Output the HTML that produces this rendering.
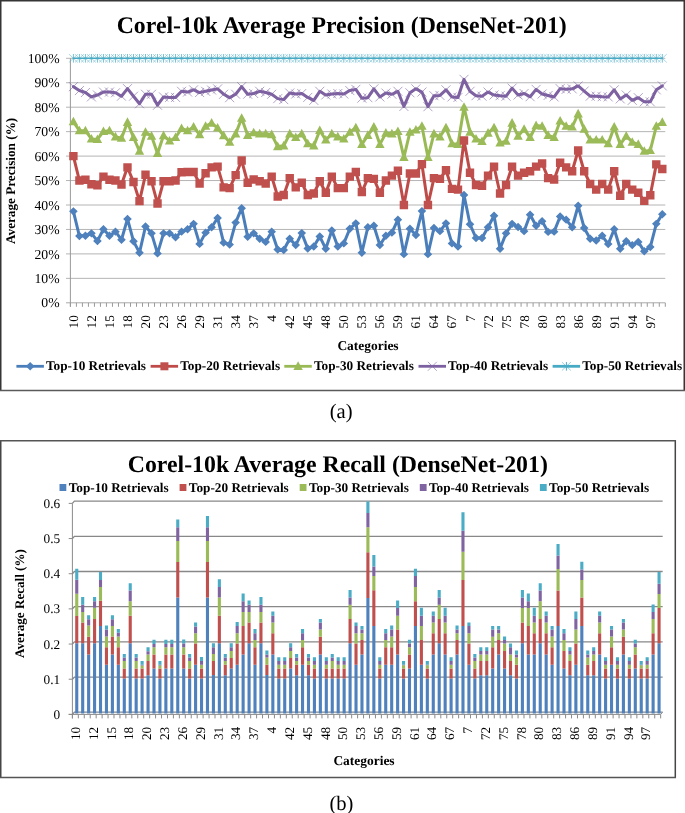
<!DOCTYPE html>
<html><head><meta charset="utf-8"><style>
html,body{margin:0;padding:0;background:#fff;}
svg{display:block;font-family:"Liberation Serif",serif;text-rendering:geometricPrecision;will-change:transform;}
</style></head><body>
<svg width="685" height="813" viewBox="0 0 685 813" fill="#000">
<path d="M0 0.75H685M0.75 0V391M684.25 0V391" stroke="#353535" stroke-width="1.5" fill="none"/>
<path d="M0 390.4H685" stroke="#5a5a5a" stroke-width="1.5" fill="none"/>
<text x="341.7" y="32.9" font-size="23.8" font-weight="bold" text-anchor="middle">Corel-10k Average Precision (DenseNet-201)</text>
<path d="M66 278.35 H665.3 M66 253.9 H665.3 M66 229.45 H665.3 M66 205 H665.3 M66 180.55 H665.3 M66 156.1 H665.3 M66 131.65 H665.3 M66 107.2 H665.3 M66 82.75 H665.3 M66 58.3 H665.3" stroke="#b4b4b4" stroke-width="1" fill="none"/>
<path d="M66 302.8 H665.3" stroke="#a8a8a8" stroke-width="1" fill="none"/>
<path d="M70.4 58.3 V306.8" stroke="#9a9a9a" stroke-width="1" fill="none"/>
<path d="M70.4 302.8 v4 M76.41 302.8 v4 M82.42 302.8 v4 M88.43 302.8 v4 M94.44 302.8 v4 M100.45 302.8 v4 M106.45 302.8 v4 M112.46 302.8 v4 M118.47 302.8 v4 M124.48 302.8 v4 M130.49 302.8 v4 M136.5 302.8 v4 M142.51 302.8 v4 M148.52 302.8 v4 M154.53 302.8 v4 M160.54 302.8 v4 M166.55 302.8 v4 M172.55 302.8 v4 M178.56 302.8 v4 M184.57 302.8 v4 M190.58 302.8 v4 M196.59 302.8 v4 M202.6 302.8 v4 M208.61 302.8 v4 M214.62 302.8 v4 M220.63 302.8 v4 M226.64 302.8 v4 M232.65 302.8 v4 M238.65 302.8 v4 M244.66 302.8 v4 M250.67 302.8 v4 M256.68 302.8 v4 M262.69 302.8 v4 M268.7 302.8 v4 M274.71 302.8 v4 M280.72 302.8 v4 M286.73 302.8 v4 M292.74 302.8 v4 M298.75 302.8 v4 M304.75 302.8 v4 M310.76 302.8 v4 M316.77 302.8 v4 M322.78 302.8 v4 M328.79 302.8 v4 M334.8 302.8 v4 M340.81 302.8 v4 M346.82 302.8 v4 M352.83 302.8 v4 M358.84 302.8 v4 M364.85 302.8 v4 M370.85 302.8 v4 M376.86 302.8 v4 M382.87 302.8 v4 M388.88 302.8 v4 M394.89 302.8 v4 M400.9 302.8 v4 M406.91 302.8 v4 M412.92 302.8 v4 M418.93 302.8 v4 M424.94 302.8 v4 M430.95 302.8 v4 M436.95 302.8 v4 M442.96 302.8 v4 M448.97 302.8 v4 M454.98 302.8 v4 M460.99 302.8 v4 M467 302.8 v4 M473.01 302.8 v4 M479.02 302.8 v4 M485.03 302.8 v4 M491.04 302.8 v4 M497.05 302.8 v4 M503.05 302.8 v4 M509.06 302.8 v4 M515.07 302.8 v4 M521.08 302.8 v4 M527.09 302.8 v4 M533.1 302.8 v4 M539.11 302.8 v4 M545.12 302.8 v4 M551.13 302.8 v4 M557.14 302.8 v4 M563.15 302.8 v4 M569.15 302.8 v4 M575.16 302.8 v4 M581.17 302.8 v4 M587.18 302.8 v4 M593.19 302.8 v4 M599.2 302.8 v4 M605.21 302.8 v4 M611.22 302.8 v4 M617.23 302.8 v4 M623.24 302.8 v4 M629.25 302.8 v4 M635.25 302.8 v4 M641.26 302.8 v4 M647.27 302.8 v4 M653.28 302.8 v4 M659.29 302.8 v4 M665.3 302.8 v4" stroke="#9a9a9a" stroke-width="1" fill="none"/>
<text x="59.6" y="307.4" font-size="13.7" text-anchor="end">0%</text>
<text x="59.6" y="282.95" font-size="13.7" text-anchor="end">10%</text>
<text x="59.6" y="258.5" font-size="13.7" text-anchor="end">20%</text>
<text x="59.6" y="234.05" font-size="13.7" text-anchor="end">30%</text>
<text x="59.6" y="209.6" font-size="13.7" text-anchor="end">40%</text>
<text x="59.6" y="185.15" font-size="13.7" text-anchor="end">50%</text>
<text x="59.6" y="160.7" font-size="13.7" text-anchor="end">60%</text>
<text x="59.6" y="136.25" font-size="13.7" text-anchor="end">70%</text>
<text x="59.6" y="111.8" font-size="13.7" text-anchor="end">80%</text>
<text x="59.6" y="87.35" font-size="13.7" text-anchor="end">90%</text>
<text x="59.6" y="62.9" font-size="13.7" text-anchor="end">100%</text>
<text transform="translate(77.9 315.2) rotate(-90)" font-size="13.2" text-anchor="end">10</text>
<text transform="translate(95.93 315.2) rotate(-90)" font-size="13.2" text-anchor="end">12</text>
<text transform="translate(113.96 315.2) rotate(-90)" font-size="13.2" text-anchor="end">15</text>
<text transform="translate(131.99 315.2) rotate(-90)" font-size="13.2" text-anchor="end">18</text>
<text transform="translate(150.01 315.2) rotate(-90)" font-size="13.2" text-anchor="end">20</text>
<text transform="translate(168.04 315.2) rotate(-90)" font-size="13.2" text-anchor="end">23</text>
<text transform="translate(186.07 315.2) rotate(-90)" font-size="13.2" text-anchor="end">26</text>
<text transform="translate(204.1 315.2) rotate(-90)" font-size="13.2" text-anchor="end">29</text>
<text transform="translate(222.12 315.2) rotate(-90)" font-size="13.2" text-anchor="end">31</text>
<text transform="translate(240.15 315.2) rotate(-90)" font-size="13.2" text-anchor="end">34</text>
<text transform="translate(258.18 315.2) rotate(-90)" font-size="13.2" text-anchor="end">37</text>
<text transform="translate(276.2 315.2) rotate(-90)" font-size="13.2" text-anchor="end">4</text>
<text transform="translate(294.23 315.2) rotate(-90)" font-size="13.2" text-anchor="end">42</text>
<text transform="translate(312.26 315.2) rotate(-90)" font-size="13.2" text-anchor="end">45</text>
<text transform="translate(330.29 315.2) rotate(-90)" font-size="13.2" text-anchor="end">48</text>
<text transform="translate(348.31 315.2) rotate(-90)" font-size="13.2" text-anchor="end">50</text>
<text transform="translate(366.34 315.2) rotate(-90)" font-size="13.2" text-anchor="end">53</text>
<text transform="translate(384.37 315.2) rotate(-90)" font-size="13.2" text-anchor="end">56</text>
<text transform="translate(402.4 315.2) rotate(-90)" font-size="13.2" text-anchor="end">59</text>
<text transform="translate(420.42 315.2) rotate(-90)" font-size="13.2" text-anchor="end">61</text>
<text transform="translate(438.45 315.2) rotate(-90)" font-size="13.2" text-anchor="end">64</text>
<text transform="translate(456.48 315.2) rotate(-90)" font-size="13.2" text-anchor="end">67</text>
<text transform="translate(474.5 315.2) rotate(-90)" font-size="13.2" text-anchor="end">7</text>
<text transform="translate(492.53 315.2) rotate(-90)" font-size="13.2" text-anchor="end">72</text>
<text transform="translate(510.56 315.2) rotate(-90)" font-size="13.2" text-anchor="end">75</text>
<text transform="translate(528.59 315.2) rotate(-90)" font-size="13.2" text-anchor="end">78</text>
<text transform="translate(546.61 315.2) rotate(-90)" font-size="13.2" text-anchor="end">80</text>
<text transform="translate(564.64 315.2) rotate(-90)" font-size="13.2" text-anchor="end">83</text>
<text transform="translate(582.67 315.2) rotate(-90)" font-size="13.2" text-anchor="end">86</text>
<text transform="translate(600.7 315.2) rotate(-90)" font-size="13.2" text-anchor="end">89</text>
<text transform="translate(618.72 315.2) rotate(-90)" font-size="13.2" text-anchor="end">91</text>
<text transform="translate(636.75 315.2) rotate(-90)" font-size="13.2" text-anchor="end">94</text>
<text transform="translate(654.78 315.2) rotate(-90)" font-size="13.2" text-anchor="end">97</text>
<text x="368" y="349.6" font-size="13.45" font-weight="bold" text-anchor="middle">Categories</text>
<text transform="translate(15 180.9) rotate(-90)" font-size="13.2" font-weight="bold" text-anchor="middle">Average Precision (%)</text>
<polyline points="73.4,58.3 79.41,58.3 85.42,58.3 91.43,58.3 97.44,58.3 103.45,58.3 109.46,58.3 115.47,58.3 121.48,58.3 127.49,58.3 133.5,58.3 139.5,58.3 145.51,58.3 151.52,58.3 157.53,58.3 163.54,58.3 169.55,58.3 175.56,58.3 181.57,58.3 187.58,58.3 193.59,58.3 199.6,58.3 205.6,58.3 211.61,58.3 217.62,58.3 223.63,58.3 229.64,58.3 235.65,58.3 241.66,58.3 247.67,58.3 253.68,58.3 259.69,58.3 265.7,58.3 271.7,58.3 277.71,58.3 283.72,58.3 289.73,58.3 295.74,58.3 301.75,58.3 307.76,58.3 313.77,58.3 319.78,58.3 325.79,58.3 331.8,58.3 337.8,58.3 343.81,58.3 349.82,58.3 355.83,58.3 361.84,58.3 367.85,58.3 373.86,58.3 379.87,58.3 385.88,58.3 391.89,58.3 397.9,58.3 403.9,58.3 409.91,58.3 415.92,58.3 421.93,58.3 427.94,58.3 433.95,58.3 439.96,58.3 445.97,58.3 451.98,58.3 457.99,58.3 464,58.3 470,58.3 476.01,58.3 482.02,58.3 488.03,58.3 494.04,58.3 500.05,58.3 506.06,58.3 512.07,58.3 518.08,58.3 524.09,58.3 530.1,58.3 536.1,58.3 542.11,58.3 548.12,58.3 554.13,58.3 560.14,58.3 566.15,58.3 572.16,58.3 578.17,58.3 584.18,58.3 590.19,58.3 596.2,58.3 602.2,58.3 608.21,58.3 614.22,58.3 620.23,58.3 626.24,58.3 632.25,58.3 638.26,58.3 644.27,58.3 650.28,58.3 656.29,58.3 662.3,58.3" fill="none" stroke="#46AAC5" stroke-width="1.6" stroke-linejoin="round" stroke-linecap="round"/>
<path d="M68.9 54.1l9 8.4M68.9 62.5l9 -8.4 M74.91 54.1l9 8.4M74.91 62.5l9 -8.4 M80.92 54.1l9 8.4M80.92 62.5l9 -8.4 M86.93 54.1l9 8.4M86.93 62.5l9 -8.4 M92.94 54.1l9 8.4M92.94 62.5l9 -8.4 M98.95 54.1l9 8.4M98.95 62.5l9 -8.4 M104.96 54.1l9 8.4M104.96 62.5l9 -8.4 M110.97 54.1l9 8.4M110.97 62.5l9 -8.4 M116.98 54.1l9 8.4M116.98 62.5l9 -8.4 M122.99 54.1l9 8.4M122.99 62.5l9 -8.4 M129 54.1l9 8.4M129 62.5l9 -8.4 M135 54.1l9 8.4M135 62.5l9 -8.4 M141.01 54.1l9 8.4M141.01 62.5l9 -8.4 M147.02 54.1l9 8.4M147.02 62.5l9 -8.4 M153.03 54.1l9 8.4M153.03 62.5l9 -8.4 M159.04 54.1l9 8.4M159.04 62.5l9 -8.4 M165.05 54.1l9 8.4M165.05 62.5l9 -8.4 M171.06 54.1l9 8.4M171.06 62.5l9 -8.4 M177.07 54.1l9 8.4M177.07 62.5l9 -8.4 M183.08 54.1l9 8.4M183.08 62.5l9 -8.4 M189.09 54.1l9 8.4M189.09 62.5l9 -8.4 M195.1 54.1l9 8.4M195.1 62.5l9 -8.4 M201.1 54.1l9 8.4M201.1 62.5l9 -8.4 M207.11 54.1l9 8.4M207.11 62.5l9 -8.4 M213.12 54.1l9 8.4M213.12 62.5l9 -8.4 M219.13 54.1l9 8.4M219.13 62.5l9 -8.4 M225.14 54.1l9 8.4M225.14 62.5l9 -8.4 M231.15 54.1l9 8.4M231.15 62.5l9 -8.4 M237.16 54.1l9 8.4M237.16 62.5l9 -8.4 M243.17 54.1l9 8.4M243.17 62.5l9 -8.4 M249.18 54.1l9 8.4M249.18 62.5l9 -8.4 M255.19 54.1l9 8.4M255.19 62.5l9 -8.4 M261.2 54.1l9 8.4M261.2 62.5l9 -8.4 M267.2 54.1l9 8.4M267.2 62.5l9 -8.4 M273.21 54.1l9 8.4M273.21 62.5l9 -8.4 M279.22 54.1l9 8.4M279.22 62.5l9 -8.4 M285.23 54.1l9 8.4M285.23 62.5l9 -8.4 M291.24 54.1l9 8.4M291.24 62.5l9 -8.4 M297.25 54.1l9 8.4M297.25 62.5l9 -8.4 M303.26 54.1l9 8.4M303.26 62.5l9 -8.4 M309.27 54.1l9 8.4M309.27 62.5l9 -8.4 M315.28 54.1l9 8.4M315.28 62.5l9 -8.4 M321.29 54.1l9 8.4M321.29 62.5l9 -8.4 M327.3 54.1l9 8.4M327.3 62.5l9 -8.4 M333.3 54.1l9 8.4M333.3 62.5l9 -8.4 M339.31 54.1l9 8.4M339.31 62.5l9 -8.4 M345.32 54.1l9 8.4M345.32 62.5l9 -8.4 M351.33 54.1l9 8.4M351.33 62.5l9 -8.4 M357.34 54.1l9 8.4M357.34 62.5l9 -8.4 M363.35 54.1l9 8.4M363.35 62.5l9 -8.4 M369.36 54.1l9 8.4M369.36 62.5l9 -8.4 M375.37 54.1l9 8.4M375.37 62.5l9 -8.4 M381.38 54.1l9 8.4M381.38 62.5l9 -8.4 M387.39 54.1l9 8.4M387.39 62.5l9 -8.4 M393.4 54.1l9 8.4M393.4 62.5l9 -8.4 M399.4 54.1l9 8.4M399.4 62.5l9 -8.4 M405.41 54.1l9 8.4M405.41 62.5l9 -8.4 M411.42 54.1l9 8.4M411.42 62.5l9 -8.4 M417.43 54.1l9 8.4M417.43 62.5l9 -8.4 M423.44 54.1l9 8.4M423.44 62.5l9 -8.4 M429.45 54.1l9 8.4M429.45 62.5l9 -8.4 M435.46 54.1l9 8.4M435.46 62.5l9 -8.4 M441.47 54.1l9 8.4M441.47 62.5l9 -8.4 M447.48 54.1l9 8.4M447.48 62.5l9 -8.4 M453.49 54.1l9 8.4M453.49 62.5l9 -8.4 M459.5 54.1l9 8.4M459.5 62.5l9 -8.4 M465.5 54.1l9 8.4M465.5 62.5l9 -8.4 M471.51 54.1l9 8.4M471.51 62.5l9 -8.4 M477.52 54.1l9 8.4M477.52 62.5l9 -8.4 M483.53 54.1l9 8.4M483.53 62.5l9 -8.4 M489.54 54.1l9 8.4M489.54 62.5l9 -8.4 M495.55 54.1l9 8.4M495.55 62.5l9 -8.4 M501.56 54.1l9 8.4M501.56 62.5l9 -8.4 M507.57 54.1l9 8.4M507.57 62.5l9 -8.4 M513.58 54.1l9 8.4M513.58 62.5l9 -8.4 M519.59 54.1l9 8.4M519.59 62.5l9 -8.4 M525.6 54.1l9 8.4M525.6 62.5l9 -8.4 M531.6 54.1l9 8.4M531.6 62.5l9 -8.4 M537.61 54.1l9 8.4M537.61 62.5l9 -8.4 M543.62 54.1l9 8.4M543.62 62.5l9 -8.4 M549.63 54.1l9 8.4M549.63 62.5l9 -8.4 M555.64 54.1l9 8.4M555.64 62.5l9 -8.4 M561.65 54.1l9 8.4M561.65 62.5l9 -8.4 M567.66 54.1l9 8.4M567.66 62.5l9 -8.4 M573.67 54.1l9 8.4M573.67 62.5l9 -8.4 M579.68 54.1l9 8.4M579.68 62.5l9 -8.4 M585.69 54.1l9 8.4M585.69 62.5l9 -8.4 M591.7 54.1l9 8.4M591.7 62.5l9 -8.4 M597.7 54.1l9 8.4M597.7 62.5l9 -8.4 M603.71 54.1l9 8.4M603.71 62.5l9 -8.4 M609.72 54.1l9 8.4M609.72 62.5l9 -8.4 M615.73 54.1l9 8.4M615.73 62.5l9 -8.4 M621.74 54.1l9 8.4M621.74 62.5l9 -8.4 M627.75 54.1l9 8.4M627.75 62.5l9 -8.4 M633.76 54.1l9 8.4M633.76 62.5l9 -8.4 M639.77 54.1l9 8.4M639.77 62.5l9 -8.4 M645.78 54.1l9 8.4M645.78 62.5l9 -8.4 M651.79 54.1l9 8.4M651.79 62.5l9 -8.4 M657.8 54.1l9 8.4M657.8 62.5l9 -8.4" stroke="#4BACC6" stroke-width="0.7" fill="none" opacity="0.65"/>
<path d="M73.4 54v8.6 M79.41 54v8.6 M85.42 54v8.6 M91.43 54v8.6 M97.44 54v8.6 M103.45 54v8.6 M109.46 54v8.6 M115.47 54v8.6 M121.48 54v8.6 M127.49 54v8.6 M133.5 54v8.6 M139.5 54v8.6 M145.51 54v8.6 M151.52 54v8.6 M157.53 54v8.6 M163.54 54v8.6 M169.55 54v8.6 M175.56 54v8.6 M181.57 54v8.6 M187.58 54v8.6 M193.59 54v8.6 M199.6 54v8.6 M205.6 54v8.6 M211.61 54v8.6 M217.62 54v8.6 M223.63 54v8.6 M229.64 54v8.6 M235.65 54v8.6 M241.66 54v8.6 M247.67 54v8.6 M253.68 54v8.6 M259.69 54v8.6 M265.7 54v8.6 M271.7 54v8.6 M277.71 54v8.6 M283.72 54v8.6 M289.73 54v8.6 M295.74 54v8.6 M301.75 54v8.6 M307.76 54v8.6 M313.77 54v8.6 M319.78 54v8.6 M325.79 54v8.6 M331.8 54v8.6 M337.8 54v8.6 M343.81 54v8.6 M349.82 54v8.6 M355.83 54v8.6 M361.84 54v8.6 M367.85 54v8.6 M373.86 54v8.6 M379.87 54v8.6 M385.88 54v8.6 M391.89 54v8.6 M397.9 54v8.6 M403.9 54v8.6 M409.91 54v8.6 M415.92 54v8.6 M421.93 54v8.6 M427.94 54v8.6 M433.95 54v8.6 M439.96 54v8.6 M445.97 54v8.6 M451.98 54v8.6 M457.99 54v8.6 M464 54v8.6 M470 54v8.6 M476.01 54v8.6 M482.02 54v8.6 M488.03 54v8.6 M494.04 54v8.6 M500.05 54v8.6 M506.06 54v8.6 M512.07 54v8.6 M518.08 54v8.6 M524.09 54v8.6 M530.1 54v8.6 M536.1 54v8.6 M542.11 54v8.6 M548.12 54v8.6 M554.13 54v8.6 M560.14 54v8.6 M566.15 54v8.6 M572.16 54v8.6 M578.17 54v8.6 M584.18 54v8.6 M590.19 54v8.6 M596.2 54v8.6 M602.2 54v8.6 M608.21 54v8.6 M614.22 54v8.6 M620.23 54v8.6 M626.24 54v8.6 M632.25 54v8.6 M638.26 54v8.6 M644.27 54v8.6 M650.28 54v8.6 M656.29 54v8.6 M662.3 54v8.6" stroke="#4BACC6" stroke-width="0.9" fill="none" opacity="0.85"/>
<polyline points="73.4,86.66 79.41,90.57 85.42,92.53 91.43,96.93 97.44,94.98 103.45,92.04 109.46,92.04 115.47,92.77 121.48,96.2 127.49,88.62 133.5,96.2 139.5,103.78 145.51,94.24 151.52,94.24 157.53,105.24 163.54,96.93 169.55,97.42 175.56,97.42 181.57,91.31 187.58,92.04 193.59,89.84 199.6,92.53 205.6,91.31 211.61,90.09 217.62,88.86 223.63,94.24 229.64,97.66 235.65,94.24 241.66,86.66 247.67,94.24 253.68,93.51 259.69,91.31 265.7,92.53 271.7,94.24 277.71,98.64 283.72,99.62 289.73,93.02 295.74,94 301.75,93.51 307.76,97.42 313.77,100.35 319.78,91.31 325.79,94.98 331.8,94 337.8,93.51 343.81,94 349.82,90.57 355.83,89.35 361.84,98.15 367.85,97.66 373.86,88.86 379.87,96.93 385.88,93.02 391.89,94.24 397.9,91.31 403.9,106.47 409.91,92.77 415.92,88.86 421.93,92.04 427.94,106.71 433.95,95.71 439.96,95.46 445.97,89.84 451.98,96.93 457.99,97.42 464,79.33 470,91.31 476.01,95.71 482.02,96.2 488.03,92.04 494.04,94.98 500.05,95.71 506.06,96.2 512.07,88.13 518.08,94.98 524.09,93.51 530.1,96.69 536.1,89.35 542.11,94 548.12,95.46 554.13,96.93 560.14,88.62 566.15,89.35 572.16,88.86 578.17,85.93 584.18,91.06 590.19,96.2 596.2,96.2 602.2,96.69 608.21,96.93 614.22,89.84 620.23,98.89 626.24,94.98 632.25,100.35 638.26,97.66 644.27,101.82 650.28,101.82 656.29,89.84 662.3,85.93" fill="none" stroke="#7D60A0" stroke-width="3" stroke-linejoin="round" stroke-linecap="round"/>
<path d="M68.9 82.16l9 9M68.9 91.16l9 -9 M74.91 86.07l9 9M74.91 95.07l9 -9 M80.92 88.03l9 9M80.92 97.03l9 -9 M86.93 92.43l9 9M86.93 101.43l9 -9 M92.94 90.48l9 9M92.94 99.48l9 -9 M98.95 87.54l9 9M98.95 96.54l9 -9 M104.96 87.54l9 9M104.96 96.54l9 -9 M110.97 88.27l9 9M110.97 97.27l9 -9 M116.98 91.7l9 9M116.98 100.7l9 -9 M122.99 84.12l9 9M122.99 93.12l9 -9 M129 91.7l9 9M129 100.7l9 -9 M135 99.28l9 9M135 108.28l9 -9 M141.01 89.74l9 9M141.01 98.74l9 -9 M147.02 89.74l9 9M147.02 98.74l9 -9 M153.03 100.74l9 9M153.03 109.74l9 -9 M159.04 92.43l9 9M159.04 101.43l9 -9 M165.05 92.92l9 9M165.05 101.92l9 -9 M171.06 92.92l9 9M171.06 101.92l9 -9 M177.07 86.81l9 9M177.07 95.81l9 -9 M183.08 87.54l9 9M183.08 96.54l9 -9 M189.09 85.34l9 9M189.09 94.34l9 -9 M195.1 88.03l9 9M195.1 97.03l9 -9 M201.1 86.81l9 9M201.1 95.81l9 -9 M207.11 85.59l9 9M207.11 94.59l9 -9 M213.12 84.36l9 9M213.12 93.36l9 -9 M219.13 89.74l9 9M219.13 98.74l9 -9 M225.14 93.16l9 9M225.14 102.16l9 -9 M231.15 89.74l9 9M231.15 98.74l9 -9 M237.16 82.16l9 9M237.16 91.16l9 -9 M243.17 89.74l9 9M243.17 98.74l9 -9 M249.18 89.01l9 9M249.18 98.01l9 -9 M255.19 86.81l9 9M255.19 95.81l9 -9 M261.2 88.03l9 9M261.2 97.03l9 -9 M267.2 89.74l9 9M267.2 98.74l9 -9 M273.21 94.14l9 9M273.21 103.14l9 -9 M279.22 95.12l9 9M279.22 104.12l9 -9 M285.23 88.52l9 9M285.23 97.52l9 -9 M291.24 89.5l9 9M291.24 98.5l9 -9 M297.25 89.01l9 9M297.25 98.01l9 -9 M303.26 92.92l9 9M303.26 101.92l9 -9 M309.27 95.85l9 9M309.27 104.85l9 -9 M315.28 86.81l9 9M315.28 95.81l9 -9 M321.29 90.48l9 9M321.29 99.48l9 -9 M327.3 89.5l9 9M327.3 98.5l9 -9 M333.3 89.01l9 9M333.3 98.01l9 -9 M339.31 89.5l9 9M339.31 98.5l9 -9 M345.32 86.07l9 9M345.32 95.07l9 -9 M351.33 84.85l9 9M351.33 93.85l9 -9 M357.34 93.65l9 9M357.34 102.65l9 -9 M363.35 93.16l9 9M363.35 102.16l9 -9 M369.36 84.36l9 9M369.36 93.36l9 -9 M375.37 92.43l9 9M375.37 101.43l9 -9 M381.38 88.52l9 9M381.38 97.52l9 -9 M387.39 89.74l9 9M387.39 98.74l9 -9 M393.4 86.81l9 9M393.4 95.81l9 -9 M399.4 101.97l9 9M399.4 110.97l9 -9 M405.41 88.27l9 9M405.41 97.27l9 -9 M411.42 84.36l9 9M411.42 93.36l9 -9 M417.43 87.54l9 9M417.43 96.54l9 -9 M423.44 102.21l9 9M423.44 111.21l9 -9 M429.45 91.21l9 9M429.45 100.21l9 -9 M435.46 90.96l9 9M435.46 99.96l9 -9 M441.47 85.34l9 9M441.47 94.34l9 -9 M447.48 92.43l9 9M447.48 101.43l9 -9 M453.49 92.92l9 9M453.49 101.92l9 -9 M459.5 74.83l9 9M459.5 83.83l9 -9 M465.5 86.81l9 9M465.5 95.81l9 -9 M471.51 91.21l9 9M471.51 100.21l9 -9 M477.52 91.7l9 9M477.52 100.7l9 -9 M483.53 87.54l9 9M483.53 96.54l9 -9 M489.54 90.48l9 9M489.54 99.48l9 -9 M495.55 91.21l9 9M495.55 100.21l9 -9 M501.56 91.7l9 9M501.56 100.7l9 -9 M507.57 83.63l9 9M507.57 92.63l9 -9 M513.58 90.48l9 9M513.58 99.48l9 -9 M519.59 89.01l9 9M519.59 98.01l9 -9 M525.6 92.19l9 9M525.6 101.19l9 -9 M531.6 84.85l9 9M531.6 93.85l9 -9 M537.61 89.5l9 9M537.61 98.5l9 -9 M543.62 90.96l9 9M543.62 99.96l9 -9 M549.63 92.43l9 9M549.63 101.43l9 -9 M555.64 84.12l9 9M555.64 93.12l9 -9 M561.65 84.85l9 9M561.65 93.85l9 -9 M567.66 84.36l9 9M567.66 93.36l9 -9 M573.67 81.43l9 9M573.67 90.43l9 -9 M579.68 86.56l9 9M579.68 95.56l9 -9 M585.69 91.7l9 9M585.69 100.7l9 -9 M591.7 91.7l9 9M591.7 100.7l9 -9 M597.7 92.19l9 9M597.7 101.19l9 -9 M603.71 92.43l9 9M603.71 101.43l9 -9 M609.72 85.34l9 9M609.72 94.34l9 -9 M615.73 94.39l9 9M615.73 103.39l9 -9 M621.74 90.48l9 9M621.74 99.48l9 -9 M627.75 95.85l9 9M627.75 104.85l9 -9 M633.76 93.16l9 9M633.76 102.16l9 -9 M639.77 97.32l9 9M639.77 106.32l9 -9 M645.78 97.32l9 9M645.78 106.32l9 -9 M651.79 85.34l9 9M651.79 94.34l9 -9 M657.8 81.43l9 9M657.8 90.43l9 -9" stroke="#8064A2" stroke-width="0.8" fill="none" opacity="0.75"/>
<polyline points="73.4,121.63 79.41,130.67 85.42,130.67 91.43,138.99 97.44,139.47 103.45,131.41 109.46,130.67 115.47,136.78 121.48,138.25 127.49,122.36 133.5,137.52 139.5,151.21 145.51,132.14 151.52,136.05 157.53,153.41 163.54,135.56 169.55,140.94 175.56,137.52 181.57,128.47 187.58,130.67 193.59,127 199.6,134.58 205.6,126.27 211.61,123.09 217.62,127.98 223.63,135.56 229.64,142.16 235.65,133.85 241.66,118.2 247.67,135.32 253.68,132.63 259.69,133.85 265.7,133.85 271.7,134.58 277.71,146.56 283.72,145.83 289.73,133.85 295.74,137.52 301.75,133.85 307.76,143.63 313.77,145.83 319.78,130.43 325.79,139.96 331.8,133.85 337.8,136.78 343.81,138.99 349.82,132.14 355.83,127.74 361.84,144.36 367.85,135.32 373.86,127 379.87,144.36 385.88,133.12 391.89,133.85 397.9,131.41 403.9,157.32 409.91,132.14 415.92,129.94 421.93,126.27 427.94,157.32 433.95,133.85 439.96,136.78 445.97,127.74 451.98,143.63 457.99,144.36 464,107.2 470,132.14 476.01,138.99 482.02,141.43 488.03,133.12 494.04,127.74 500.05,142.9 506.06,141.19 512.07,123.09 518.08,136.05 524.09,129.21 530.1,137.52 536.1,125.54 542.11,126.27 548.12,135.32 554.13,137.52 560.14,120.89 566.15,126.27 572.16,127 578.17,113.8 584.18,129.21 590.19,139.96 596.2,139.96 602.2,139.96 608.21,143.63 614.22,127 620.23,144.36 626.24,136.05 632.25,142.16 638.26,144.36 644.27,151.21 650.28,150.48 656.29,126.27 662.3,122.36" fill="none" stroke="#98B954" stroke-width="3" stroke-linejoin="round" stroke-linecap="round"/>
<path d="M73.4 116.63L78.1 125.23L68.7 125.23z M79.41 125.67L84.11 134.27L74.71 134.27z M85.42 125.67L90.12 134.27L80.72 134.27z M91.43 133.99L96.13 142.59L86.73 142.59z M97.44 134.47L102.14 143.07L92.74 143.07z M103.45 126.41L108.15 135.01L98.75 135.01z M109.46 125.67L114.16 134.27L104.76 134.27z M115.47 131.78L120.17 140.38L110.77 140.38z M121.48 133.25L126.18 141.85L116.78 141.85z M127.49 117.36L132.19 125.96L122.79 125.96z M133.5 132.52L138.2 141.12L128.8 141.12z M139.5 146.21L144.2 154.81L134.8 154.81z M145.51 127.14L150.21 135.74L140.81 135.74z M151.52 131.05L156.22 139.65L146.82 139.65z M157.53 148.41L162.23 157.01L152.83 157.01z M163.54 130.56L168.24 139.16L158.84 139.16z M169.55 135.94L174.25 144.54L164.85 144.54z M175.56 132.52L180.26 141.12L170.86 141.12z M181.57 123.47L186.27 132.07L176.87 132.07z M187.58 125.67L192.28 134.27L182.88 134.27z M193.59 122L198.29 130.6L188.89 130.6z M199.6 129.58L204.3 138.18L194.9 138.18z M205.6 121.27L210.3 129.87L200.9 129.87z M211.61 118.09L216.31 126.69L206.91 126.69z M217.62 122.98L222.32 131.58L212.92 131.58z M223.63 130.56L228.33 139.16L218.93 139.16z M229.64 137.16L234.34 145.76L224.94 145.76z M235.65 128.85L240.35 137.45L230.95 137.45z M241.66 113.2L246.36 121.8L236.96 121.8z M247.67 130.32L252.37 138.92L242.97 138.92z M253.68 127.63L258.38 136.23L248.98 136.23z M259.69 128.85L264.39 137.45L254.99 137.45z M265.7 128.85L270.4 137.45L261 137.45z M271.7 129.58L276.4 138.18L267 138.18z M277.71 141.56L282.41 150.16L273.01 150.16z M283.72 140.83L288.42 149.43L279.02 149.43z M289.73 128.85L294.43 137.45L285.03 137.45z M295.74 132.52L300.44 141.12L291.04 141.12z M301.75 128.85L306.45 137.45L297.05 137.45z M307.76 138.63L312.46 147.23L303.06 147.23z M313.77 140.83L318.47 149.43L309.07 149.43z M319.78 125.43L324.48 134.03L315.08 134.03z M325.79 134.96L330.49 143.56L321.09 143.56z M331.8 128.85L336.5 137.45L327.1 137.45z M337.8 131.78L342.5 140.38L333.1 140.38z M343.81 133.99L348.51 142.59L339.11 142.59z M349.82 127.14L354.52 135.74L345.12 135.74z M355.83 122.74L360.53 131.34L351.13 131.34z M361.84 139.36L366.54 147.96L357.14 147.96z M367.85 130.32L372.55 138.92L363.15 138.92z M373.86 122L378.56 130.6L369.16 130.6z M379.87 139.36L384.57 147.96L375.17 147.96z M385.88 128.12L390.58 136.72L381.18 136.72z M391.89 128.85L396.59 137.45L387.19 137.45z M397.9 126.41L402.6 135.01L393.2 135.01z M403.9 152.32L408.6 160.92L399.2 160.92z M409.91 127.14L414.61 135.74L405.21 135.74z M415.92 124.94L420.62 133.54L411.22 133.54z M421.93 121.27L426.63 129.87L417.23 129.87z M427.94 152.32L432.64 160.92L423.24 160.92z M433.95 128.85L438.65 137.45L429.25 137.45z M439.96 131.78L444.66 140.38L435.26 140.38z M445.97 122.74L450.67 131.34L441.27 131.34z M451.98 138.63L456.68 147.23L447.28 147.23z M457.99 139.36L462.69 147.96L453.29 147.96z M464 102.2L468.7 110.8L459.3 110.8z M470 127.14L474.7 135.74L465.3 135.74z M476.01 133.99L480.71 142.59L471.31 142.59z M482.02 136.43L486.72 145.03L477.32 145.03z M488.03 128.12L492.73 136.72L483.33 136.72z M494.04 122.74L498.74 131.34L489.34 131.34z M500.05 137.9L504.75 146.5L495.35 146.5z M506.06 136.19L510.76 144.79L501.36 144.79z M512.07 118.09L516.77 126.69L507.37 126.69z M518.08 131.05L522.78 139.65L513.38 139.65z M524.09 124.21L528.79 132.81L519.39 132.81z M530.1 132.52L534.8 141.12L525.4 141.12z M536.1 120.54L540.8 129.14L531.4 129.14z M542.11 121.27L546.81 129.87L537.41 129.87z M548.12 130.32L552.82 138.92L543.42 138.92z M554.13 132.52L558.83 141.12L549.43 141.12z M560.14 115.89L564.84 124.49L555.44 124.49z M566.15 121.27L570.85 129.87L561.45 129.87z M572.16 122L576.86 130.6L567.46 130.6z M578.17 108.8L582.87 117.4L573.47 117.4z M584.18 124.21L588.88 132.81L579.48 132.81z M590.19 134.96L594.89 143.56L585.49 143.56z M596.2 134.96L600.9 143.56L591.5 143.56z M602.2 134.96L606.9 143.56L597.5 143.56z M608.21 138.63L612.91 147.23L603.51 147.23z M614.22 122L618.92 130.6L609.52 130.6z M620.23 139.36L624.93 147.96L615.53 147.96z M626.24 131.05L630.94 139.65L621.54 139.65z M632.25 137.16L636.95 145.76L627.55 145.76z M638.26 139.36L642.96 147.96L633.56 147.96z M644.27 146.21L648.97 154.81L639.57 154.81z M650.28 145.48L654.98 154.08L645.58 154.08z M656.29 121.27L660.99 129.87L651.59 129.87z M662.3 117.36L667 125.96L657.6 125.96z" fill="#9BBB59"/>
<polyline points="73.4,156.1 79.41,180.55 85.42,179.82 91.43,184.22 97.44,185.2 103.45,176.64 109.46,179.82 115.47,180.55 121.48,184.46 127.49,167.35 133.5,182.02 139.5,201.09 145.51,174.68 151.52,181.28 157.53,203.53 163.54,181.28 169.55,181.28 175.56,180.55 181.57,172.24 187.58,171.99 193.59,171.99 199.6,183.48 205.6,173.22 211.61,167.35 217.62,166.61 223.63,187.4 229.64,188.13 235.65,175.17 241.66,160.5 247.67,182.75 253.68,179.57 259.69,181.28 265.7,183.48 271.7,176.64 277.71,196.44 283.72,194.98 289.73,178.11 295.74,187.4 301.75,182.75 307.76,194.98 313.77,193.51 319.78,181.28 325.79,192.78 331.8,176.64 337.8,188.13 343.81,188.13 349.82,176.64 355.83,171.99 361.84,192.04 367.85,178.11 373.86,178.84 379.87,192.78 385.88,180.55 391.89,175.66 397.9,170.77 403.9,205 409.91,173.46 415.92,173.46 421.93,164.17 427.94,205 433.95,178.11 439.96,178.84 445.97,170.28 451.98,188.86 457.99,189.6 464,140.45 470,172.73 476.01,184.95 482.02,185.68 488.03,175.66 494.04,166.61 500.05,193.51 506.06,184.95 512.07,166.61 518.08,175.66 524.09,172.73 530.1,171.26 536.1,166.61 542.11,163.44 548.12,178.11 554.13,179.57 560.14,162.7 566.15,167.35 572.16,171.26 578.17,150.48 584.18,171.26 590.19,183.97 596.2,189.6 602.2,183.97 608.21,189.6 614.22,171.26 620.23,195.71 626.24,183.97 632.25,189.6 638.26,192.78 644.27,200.84 650.28,195.22 656.29,164.41 662.3,169.06" fill="none" stroke="#BE4B48" stroke-width="3" stroke-linejoin="round" stroke-linecap="round"/>
<path d="M69.2 151.9h8.4v8.4h-8.4z M75.21 176.35h8.4v8.4h-8.4z M81.22 175.62h8.4v8.4h-8.4z M87.23 180.02h8.4v8.4h-8.4z M93.24 181h8.4v8.4h-8.4z M99.25 172.44h8.4v8.4h-8.4z M105.26 175.62h8.4v8.4h-8.4z M111.27 176.35h8.4v8.4h-8.4z M117.28 180.26h8.4v8.4h-8.4z M123.29 163.15h8.4v8.4h-8.4z M129.3 177.82h8.4v8.4h-8.4z M135.3 196.89h8.4v8.4h-8.4z M141.31 170.48h8.4v8.4h-8.4z M147.32 177.08h8.4v8.4h-8.4z M153.33 199.33h8.4v8.4h-8.4z M159.34 177.08h8.4v8.4h-8.4z M165.35 177.08h8.4v8.4h-8.4z M171.36 176.35h8.4v8.4h-8.4z M177.37 168.04h8.4v8.4h-8.4z M183.38 167.79h8.4v8.4h-8.4z M189.39 167.79h8.4v8.4h-8.4z M195.4 179.28h8.4v8.4h-8.4z M201.4 169.02h8.4v8.4h-8.4z M207.41 163.15h8.4v8.4h-8.4z M213.42 162.41h8.4v8.4h-8.4z M219.43 183.2h8.4v8.4h-8.4z M225.44 183.93h8.4v8.4h-8.4z M231.45 170.97h8.4v8.4h-8.4z M237.46 156.3h8.4v8.4h-8.4z M243.47 178.55h8.4v8.4h-8.4z M249.48 175.37h8.4v8.4h-8.4z M255.49 177.08h8.4v8.4h-8.4z M261.5 179.28h8.4v8.4h-8.4z M267.5 172.44h8.4v8.4h-8.4z M273.51 192.24h8.4v8.4h-8.4z M279.52 190.78h8.4v8.4h-8.4z M285.53 173.91h8.4v8.4h-8.4z M291.54 183.2h8.4v8.4h-8.4z M297.55 178.55h8.4v8.4h-8.4z M303.56 190.78h8.4v8.4h-8.4z M309.57 189.31h8.4v8.4h-8.4z M315.58 177.08h8.4v8.4h-8.4z M321.59 188.58h8.4v8.4h-8.4z M327.6 172.44h8.4v8.4h-8.4z M333.6 183.93h8.4v8.4h-8.4z M339.61 183.93h8.4v8.4h-8.4z M345.62 172.44h8.4v8.4h-8.4z M351.63 167.79h8.4v8.4h-8.4z M357.64 187.84h8.4v8.4h-8.4z M363.65 173.91h8.4v8.4h-8.4z M369.66 174.64h8.4v8.4h-8.4z M375.67 188.58h8.4v8.4h-8.4z M381.68 176.35h8.4v8.4h-8.4z M387.69 171.46h8.4v8.4h-8.4z M393.7 166.57h8.4v8.4h-8.4z M399.7 200.8h8.4v8.4h-8.4z M405.71 169.26h8.4v8.4h-8.4z M411.72 169.26h8.4v8.4h-8.4z M417.73 159.97h8.4v8.4h-8.4z M423.74 200.8h8.4v8.4h-8.4z M429.75 173.91h8.4v8.4h-8.4z M435.76 174.64h8.4v8.4h-8.4z M441.77 166.08h8.4v8.4h-8.4z M447.78 184.66h8.4v8.4h-8.4z M453.79 185.4h8.4v8.4h-8.4z M459.8 136.25h8.4v8.4h-8.4z M465.8 168.53h8.4v8.4h-8.4z M471.81 180.75h8.4v8.4h-8.4z M477.82 181.48h8.4v8.4h-8.4z M483.83 171.46h8.4v8.4h-8.4z M489.84 162.41h8.4v8.4h-8.4z M495.85 189.31h8.4v8.4h-8.4z M501.86 180.75h8.4v8.4h-8.4z M507.87 162.41h8.4v8.4h-8.4z M513.88 171.46h8.4v8.4h-8.4z M519.89 168.53h8.4v8.4h-8.4z M525.9 167.06h8.4v8.4h-8.4z M531.9 162.41h8.4v8.4h-8.4z M537.91 159.24h8.4v8.4h-8.4z M543.92 173.91h8.4v8.4h-8.4z M549.93 175.37h8.4v8.4h-8.4z M555.94 158.5h8.4v8.4h-8.4z M561.95 163.15h8.4v8.4h-8.4z M567.96 167.06h8.4v8.4h-8.4z M573.97 146.28h8.4v8.4h-8.4z M579.98 167.06h8.4v8.4h-8.4z M585.99 179.77h8.4v8.4h-8.4z M592 185.4h8.4v8.4h-8.4z M598 179.77h8.4v8.4h-8.4z M604.01 185.4h8.4v8.4h-8.4z M610.02 167.06h8.4v8.4h-8.4z M616.03 191.51h8.4v8.4h-8.4z M622.04 179.77h8.4v8.4h-8.4z M628.05 185.4h8.4v8.4h-8.4z M634.06 188.58h8.4v8.4h-8.4z M640.07 196.64h8.4v8.4h-8.4z M646.08 191.02h8.4v8.4h-8.4z M652.09 160.21h8.4v8.4h-8.4z M658.1 164.86h8.4v8.4h-8.4z" fill="#C0504D"/>
<polyline points="73.4,211.36 79.41,236.05 85.42,235.81 91.43,233.36 97.44,240.94 103.45,229.21 109.46,235.81 115.47,231.65 121.48,239.72 127.49,218.94 133.5,241.19 139.5,252.68 145.51,226.52 151.52,233.36 157.53,253.41 163.54,233.36 169.55,233.36 175.56,237.27 181.57,231.65 187.58,229.21 193.59,223.83 199.6,243.88 205.6,232.63 211.61,227.25 217.62,217.96 223.63,242.65 229.64,244.61 235.65,222.6 241.66,208.18 247.67,236.79 253.68,233.36 259.69,238.74 265.7,241.92 271.7,231.65 277.71,249.5 283.72,249.99 289.73,238.74 295.74,245.1 301.75,233.12 307.76,248.52 313.77,246.56 319.78,236.54 325.79,248.77 331.8,230.43 337.8,246.56 343.81,243.39 349.82,228.72 355.83,223.34 361.84,252.68 367.85,227.25 373.86,225.78 379.87,245.1 385.88,235.81 391.89,232.63 397.9,219.67 403.9,254.14 409.91,228.72 415.92,235.07 421.93,211.11 427.94,254.14 433.95,227.98 439.96,231.16 445.97,223.34 451.98,243.39 457.99,246.56 464,194.98 470,224.32 476.01,238.01 482.02,238.01 488.03,227.25 494.04,215.76 500.05,248.77 506.06,233.36 512.07,223.83 518.08,227 524.09,231.16 530.1,214.78 536.1,225.78 542.11,221.14 548.12,231.9 554.13,231.65 560.14,216.49 566.15,219.67 572.16,227.25 578.17,205.73 584.18,227.98 590.19,238.74 596.2,240.45 602.2,235.81 608.21,244.12 614.22,229.21 620.23,248.77 626.24,241.19 632.25,245.1 638.26,241.92 644.27,251.21 650.28,247.05 656.29,223.83 662.3,214.29" fill="none" stroke="#4A7EBB" stroke-width="3" stroke-linejoin="round" stroke-linecap="round"/>
<path d="M73.4 207.16l4.3 4.2l-4.3 4.2l-4.3 -4.2z M79.41 231.85l4.3 4.2l-4.3 4.2l-4.3 -4.2z M85.42 231.61l4.3 4.2l-4.3 4.2l-4.3 -4.2z M91.43 229.16l4.3 4.2l-4.3 4.2l-4.3 -4.2z M97.44 236.74l4.3 4.2l-4.3 4.2l-4.3 -4.2z M103.45 225.01l4.3 4.2l-4.3 4.2l-4.3 -4.2z M109.46 231.61l4.3 4.2l-4.3 4.2l-4.3 -4.2z M115.47 227.45l4.3 4.2l-4.3 4.2l-4.3 -4.2z M121.48 235.52l4.3 4.2l-4.3 4.2l-4.3 -4.2z M127.49 214.74l4.3 4.2l-4.3 4.2l-4.3 -4.2z M133.5 236.99l4.3 4.2l-4.3 4.2l-4.3 -4.2z M139.5 248.48l4.3 4.2l-4.3 4.2l-4.3 -4.2z M145.51 222.32l4.3 4.2l-4.3 4.2l-4.3 -4.2z M151.52 229.16l4.3 4.2l-4.3 4.2l-4.3 -4.2z M157.53 249.21l4.3 4.2l-4.3 4.2l-4.3 -4.2z M163.54 229.16l4.3 4.2l-4.3 4.2l-4.3 -4.2z M169.55 229.16l4.3 4.2l-4.3 4.2l-4.3 -4.2z M175.56 233.07l4.3 4.2l-4.3 4.2l-4.3 -4.2z M181.57 227.45l4.3 4.2l-4.3 4.2l-4.3 -4.2z M187.58 225.01l4.3 4.2l-4.3 4.2l-4.3 -4.2z M193.59 219.63l4.3 4.2l-4.3 4.2l-4.3 -4.2z M199.6 239.68l4.3 4.2l-4.3 4.2l-4.3 -4.2z M205.6 228.43l4.3 4.2l-4.3 4.2l-4.3 -4.2z M211.61 223.05l4.3 4.2l-4.3 4.2l-4.3 -4.2z M217.62 213.76l4.3 4.2l-4.3 4.2l-4.3 -4.2z M223.63 238.45l4.3 4.2l-4.3 4.2l-4.3 -4.2z M229.64 240.41l4.3 4.2l-4.3 4.2l-4.3 -4.2z M235.65 218.4l4.3 4.2l-4.3 4.2l-4.3 -4.2z M241.66 203.98l4.3 4.2l-4.3 4.2l-4.3 -4.2z M247.67 232.59l4.3 4.2l-4.3 4.2l-4.3 -4.2z M253.68 229.16l4.3 4.2l-4.3 4.2l-4.3 -4.2z M259.69 234.54l4.3 4.2l-4.3 4.2l-4.3 -4.2z M265.7 237.72l4.3 4.2l-4.3 4.2l-4.3 -4.2z M271.7 227.45l4.3 4.2l-4.3 4.2l-4.3 -4.2z M277.71 245.3l4.3 4.2l-4.3 4.2l-4.3 -4.2z M283.72 245.79l4.3 4.2l-4.3 4.2l-4.3 -4.2z M289.73 234.54l4.3 4.2l-4.3 4.2l-4.3 -4.2z M295.74 240.9l4.3 4.2l-4.3 4.2l-4.3 -4.2z M301.75 228.92l4.3 4.2l-4.3 4.2l-4.3 -4.2z M307.76 244.32l4.3 4.2l-4.3 4.2l-4.3 -4.2z M313.77 242.37l4.3 4.2l-4.3 4.2l-4.3 -4.2z M319.78 232.34l4.3 4.2l-4.3 4.2l-4.3 -4.2z M325.79 244.57l4.3 4.2l-4.3 4.2l-4.3 -4.2z M331.8 226.23l4.3 4.2l-4.3 4.2l-4.3 -4.2z M337.8 242.37l4.3 4.2l-4.3 4.2l-4.3 -4.2z M343.81 239.19l4.3 4.2l-4.3 4.2l-4.3 -4.2z M349.82 224.52l4.3 4.2l-4.3 4.2l-4.3 -4.2z M355.83 219.14l4.3 4.2l-4.3 4.2l-4.3 -4.2z M361.84 248.48l4.3 4.2l-4.3 4.2l-4.3 -4.2z M367.85 223.05l4.3 4.2l-4.3 4.2l-4.3 -4.2z M373.86 221.58l4.3 4.2l-4.3 4.2l-4.3 -4.2z M379.87 240.9l4.3 4.2l-4.3 4.2l-4.3 -4.2z M385.88 231.61l4.3 4.2l-4.3 4.2l-4.3 -4.2z M391.89 228.43l4.3 4.2l-4.3 4.2l-4.3 -4.2z M397.9 215.47l4.3 4.2l-4.3 4.2l-4.3 -4.2z M403.9 249.94l4.3 4.2l-4.3 4.2l-4.3 -4.2z M409.91 224.52l4.3 4.2l-4.3 4.2l-4.3 -4.2z M415.92 230.87l4.3 4.2l-4.3 4.2l-4.3 -4.2z M421.93 206.91l4.3 4.2l-4.3 4.2l-4.3 -4.2z M427.94 249.94l4.3 4.2l-4.3 4.2l-4.3 -4.2z M433.95 223.78l4.3 4.2l-4.3 4.2l-4.3 -4.2z M439.96 226.96l4.3 4.2l-4.3 4.2l-4.3 -4.2z M445.97 219.14l4.3 4.2l-4.3 4.2l-4.3 -4.2z M451.98 239.19l4.3 4.2l-4.3 4.2l-4.3 -4.2z M457.99 242.37l4.3 4.2l-4.3 4.2l-4.3 -4.2z M464 190.78l4.3 4.2l-4.3 4.2l-4.3 -4.2z M470 220.12l4.3 4.2l-4.3 4.2l-4.3 -4.2z M476.01 233.81l4.3 4.2l-4.3 4.2l-4.3 -4.2z M482.02 233.81l4.3 4.2l-4.3 4.2l-4.3 -4.2z M488.03 223.05l4.3 4.2l-4.3 4.2l-4.3 -4.2z M494.04 211.56l4.3 4.2l-4.3 4.2l-4.3 -4.2z M500.05 244.57l4.3 4.2l-4.3 4.2l-4.3 -4.2z M506.06 229.16l4.3 4.2l-4.3 4.2l-4.3 -4.2z M512.07 219.63l4.3 4.2l-4.3 4.2l-4.3 -4.2z M518.08 222.81l4.3 4.2l-4.3 4.2l-4.3 -4.2z M524.09 226.96l4.3 4.2l-4.3 4.2l-4.3 -4.2z M530.1 210.58l4.3 4.2l-4.3 4.2l-4.3 -4.2z M536.1 221.58l4.3 4.2l-4.3 4.2l-4.3 -4.2z M542.11 216.94l4.3 4.2l-4.3 4.2l-4.3 -4.2z M548.12 227.7l4.3 4.2l-4.3 4.2l-4.3 -4.2z M554.13 227.45l4.3 4.2l-4.3 4.2l-4.3 -4.2z M560.14 212.29l4.3 4.2l-4.3 4.2l-4.3 -4.2z M566.15 215.47l4.3 4.2l-4.3 4.2l-4.3 -4.2z M572.16 223.05l4.3 4.2l-4.3 4.2l-4.3 -4.2z M578.17 201.53l4.3 4.2l-4.3 4.2l-4.3 -4.2z M584.18 223.78l4.3 4.2l-4.3 4.2l-4.3 -4.2z M590.19 234.54l4.3 4.2l-4.3 4.2l-4.3 -4.2z M596.2 236.25l4.3 4.2l-4.3 4.2l-4.3 -4.2z M602.2 231.61l4.3 4.2l-4.3 4.2l-4.3 -4.2z M608.21 239.92l4.3 4.2l-4.3 4.2l-4.3 -4.2z M614.22 225.01l4.3 4.2l-4.3 4.2l-4.3 -4.2z M620.23 244.57l4.3 4.2l-4.3 4.2l-4.3 -4.2z M626.24 236.99l4.3 4.2l-4.3 4.2l-4.3 -4.2z M632.25 240.9l4.3 4.2l-4.3 4.2l-4.3 -4.2z M638.26 237.72l4.3 4.2l-4.3 4.2l-4.3 -4.2z M644.27 247.01l4.3 4.2l-4.3 4.2l-4.3 -4.2z M650.28 242.85l4.3 4.2l-4.3 4.2l-4.3 -4.2z M656.29 219.63l4.3 4.2l-4.3 4.2l-4.3 -4.2z M662.3 210.09l4.3 4.2l-4.3 4.2l-4.3 -4.2z" fill="#4F81BD"/>
<path d="M16.4 366.3h27.5" stroke="#4A7EBB" stroke-width="2.8"/>
<path d="M30.2 362.1l4.3 4.2l-4.3 4.2l-4.3 -4.2z" fill="#4F81BD"/>
<text x="46" y="370.2" font-size="13.25" font-weight="bold">Top-10 Retrievals</text>
<path d="M150.6 366.3h27.5" stroke="#BE4B48" stroke-width="2.8"/>
<path d="M160.4 362.3h8v8h-8z" fill="#C0504D"/>
<text x="180.2" y="370.2" font-size="13.25" font-weight="bold">Top-20 Retrievals</text>
<path d="M284.3 366.3h27.5" stroke="#98B954" stroke-width="2.8"/>
<path d="M298.1 361.3L302.8 369.9L293.4 369.9z" fill="#9BBB59"/>
<text x="313.9" y="370.2" font-size="13.25" font-weight="bold">Top-30 Retrievals</text>
<path d="M418.5 366.3h27.5" stroke="#7D60A0" stroke-width="2.8"/>
<path d="M427.8 361.8l9 9M427.8 370.8l9 -9" stroke="#8064A2" stroke-width="0.8" opacity="0.75" fill="none"/>
<text x="448.1" y="370.2" font-size="13.25" font-weight="bold">Top-40 Retrievals</text>
<path d="M552.6 366.3h27.5" stroke="#46AAC5" stroke-width="2.8"/>
<path d="M561.9 362.1l9 8.4M561.9 370.5l9 -8.4" stroke="#4BACC6" stroke-width="0.7" opacity="0.8" fill="none"/><path d="M566.4 362v8.6" stroke="#4BACC6" stroke-width="1" fill="none"/>
<text x="582.2" y="370.2" font-size="13.25" font-weight="bold">Top-50 Retrievals</text>
<text x="341.1" y="417.6" font-size="20.6" text-anchor="middle">(a)</text>
<path d="M0.75 440V778M675.3 440V778" stroke="#454545" stroke-width="1.5" fill="none"/>
<path d="M0 440.7H676M0 777.4H676" stroke="#555" stroke-width="1.5" fill="none"/>
<text x="337.8" y="472.4" font-size="23.8" font-weight="bold" text-anchor="middle">Corel-10k Average Recall (DenseNet-201)</text>
<path d="M72.4 714.4 L74.4 712.2 H662.66 M72.4 679.23 L74.4 677.03 H662.66 M72.4 644.06 L74.4 641.86 H662.66 M72.4 608.89 L74.4 606.69 H662.66 M72.4 573.72 L74.4 571.52 H662.66 M72.4 538.55 L74.4 536.35 H662.66 M72.4 503.38 L74.4 501.18 H662.66" stroke="#888" stroke-width="1.3" fill="none"/>
<path d="M75.2 643.3h3.1v70.2h-3.1z M81.14 643.2h3.1v70.3h-3.1z M87.08 654.4h3.1v59.1h-3.1z M93.03 643.2h3.1v70.3h-3.1z M98.97 625.9h3.1v87.6h-3.1z M104.91 664.8h3.1v48.7h-3.1z M110.85 654.4h3.1v59.1h-3.1z M116.79 664.8h3.1v48.7h-3.1z M122.74 678.4h3.1v35.1h-3.1z M128.68 643.2h3.1v70.3h-3.1z M134.62 678.4h3.1v35.1h-3.1z M140.56 678.4h3.1v35.1h-3.1z M146.5 675.2h3.1v38.3h-3.1z M152.45 668.5h3.1v45h-3.1z M158.39 678.4h3.1v35.1h-3.1z M164.33 668.5h3.1v45h-3.1z M170.27 668.5h3.1v45h-3.1z M176.21 597.5h3.1v116h-3.1z M182.16 668.5h3.1v45h-3.1z M188.1 678.4h3.1v35.1h-3.1z M194.04 664.8h3.1v48.7h-3.1z M199.98 678.4h3.1v35.1h-3.1z M205.92 597.5h3.1v116h-3.1z M211.87 674.9h3.1v38.6h-3.1z M217.81 643.2h3.1v70.3h-3.1z M223.75 675.2h3.1v38.3h-3.1z M229.69 668.5h3.1v45h-3.1z M235.63 664.8h3.1v48.7h-3.1z M241.58 654.4h3.1v59.1h-3.1z M247.52 643.2h3.1v70.3h-3.1z M253.46 664.8h3.1v48.7h-3.1z M259.4 643.2h3.1v70.3h-3.1z M265.34 674.9h3.1v38.6h-3.1z M271.29 654.4h3.1v59.1h-3.1z M277.23 678.4h3.1v35.1h-3.1z M283.17 678.4h3.1v35.1h-3.1z M289.11 668.5h3.1v45h-3.1z M295.05 675.2h3.1v38.3h-3.1z M301 664.8h3.1v48.7h-3.1z M306.94 675.2h3.1v38.3h-3.1z M312.88 678.4h3.1v35.1h-3.1z M318.82 654.4h3.1v59.1h-3.1z M324.76 678.4h3.1v35.1h-3.1z M330.71 678.4h3.1v35.1h-3.1z M336.65 678.4h3.1v35.1h-3.1z M342.59 678.4h3.1v35.1h-3.1z M348.53 643.2h3.1v70.3h-3.1z M354.47 664.8h3.1v48.7h-3.1z M360.42 654.4h3.1v59.1h-3.1z M366.36 598h3.1v115.5h-3.1z M372.3 625.9h3.1v87.6h-3.1z M378.24 678.4h3.1v35.1h-3.1z M384.18 664.8h3.1v48.7h-3.1z M390.13 664.8h3.1v48.7h-3.1z M396.07 654.4h3.1v59.1h-3.1z M402.01 678.4h3.1v35.1h-3.1z M407.95 668.5h3.1v45h-3.1z M413.89 625.9h3.1v87.6h-3.1z M419.84 664.8h3.1v48.7h-3.1z M425.78 678.4h3.1v35.1h-3.1z M431.72 654.4h3.1v59.1h-3.1z M437.66 643.2h3.1v70.3h-3.1z M443.6 654.4h3.1v59.1h-3.1z M449.55 678.4h3.1v35.1h-3.1z M455.49 654.4h3.1v59.1h-3.1z M461.43 625.9h3.1v87.6h-3.1z M467.37 664.8h3.1v48.7h-3.1z M473.31 678.4h3.1v35.1h-3.1z M479.26 675.2h3.1v38.3h-3.1z M485.2 675.2h3.1v38.3h-3.1z M491.14 668.5h3.1v45h-3.1z M497.08 654.4h3.1v59.1h-3.1z M503.02 668.5h3.1v45h-3.1z M508.97 675.2h3.1v38.3h-3.1z M514.91 678.4h3.1v35.1h-3.1z M520.85 643.2h3.1v70.3h-3.1z M526.79 654.4h3.1v59.1h-3.1z M532.73 654.4h3.1v59.1h-3.1z M538.68 643.2h3.1v70.3h-3.1z M544.62 654.4h3.1v59.1h-3.1z M550.56 664.8h3.1v48.7h-3.1z M556.5 625.9h3.1v87.6h-3.1z M562.44 668.5h3.1v45h-3.1z M568.39 675.2h3.1v38.3h-3.1z M574.33 664.8h3.1v48.7h-3.1z M580.27 625.9h3.1v87.6h-3.1z M586.21 675.2h3.1v38.3h-3.1z M592.15 675.2h3.1v38.3h-3.1z M598.1 654.4h3.1v59.1h-3.1z M604.04 678.4h3.1v35.1h-3.1z M609.98 664.8h3.1v48.7h-3.1z M615.92 678.4h3.1v35.1h-3.1z M621.86 654.4h3.1v59.1h-3.1z M627.81 678.4h3.1v35.1h-3.1z M633.75 668.5h3.1v45h-3.1z M639.69 678.4h3.1v35.1h-3.1z M645.63 678.4h3.1v35.1h-3.1z M651.57 654.4h3.1v59.1h-3.1z M657.52 643.2h3.1v70.3h-3.1z" fill="#4F81BD"/>
<path d="M75.2 615.9h3.1v27.4h-3.1z M81.14 622.4h3.1v20.8h-3.1z M87.08 636.8h3.1v17.6h-3.1z M93.03 618.9h3.1v24.3h-3.1z M98.97 600.8h3.1v25.1h-3.1z M104.91 647.2h3.1v17.6h-3.1z M110.85 636.5h3.1v17.9h-3.1z M116.79 647.2h3.1v17.6h-3.1z M122.74 668.5h3.1v9.9h-3.1z M128.68 615.7h3.1v27.5h-3.1z M134.62 668.5h3.1v9.9h-3.1z M140.56 668.5h3.1v9.9h-3.1z M146.5 661.1h3.1v14.1h-3.1z M152.45 654.4h3.1v14.1h-3.1z M158.39 668.5h3.1v9.9h-3.1z M164.33 654.4h3.1v14.1h-3.1z M170.27 654.4h3.1v14.1h-3.1z M176.21 562h3.1v35.5h-3.1z M182.16 654.4h3.1v14.1h-3.1z M188.1 668.5h3.1v9.9h-3.1z M194.04 643.5h3.1v21.3h-3.1z M199.98 668.5h3.1v9.9h-3.1z M205.92 562h3.1v35.5h-3.1z M211.87 661.1h3.1v13.8h-3.1z M217.81 615.7h3.1v27.5h-3.1z M223.75 664.8h3.1v10.4h-3.1z M229.69 657.9h3.1v10.6h-3.1z M235.63 643.5h3.1v21.3h-3.1z M241.58 625.9h3.1v28.5h-3.1z M247.52 622.4h3.1v20.8h-3.1z M253.46 647.2h3.1v17.6h-3.1z M259.4 622.4h3.1v20.8h-3.1z M265.34 664.8h3.1v10.1h-3.1z M271.29 633.3h3.1v21.1h-3.1z M277.23 668.5h3.1v9.9h-3.1z M283.17 668.5h3.1v9.9h-3.1z M289.11 657.9h3.1v10.6h-3.1z M295.05 664.8h3.1v10.4h-3.1z M301 647.2h3.1v17.6h-3.1z M306.94 664.8h3.1v10.4h-3.1z M312.88 668.5h3.1v9.9h-3.1z M318.82 636.8h3.1v17.6h-3.1z M324.76 668.5h3.1v9.9h-3.1z M330.71 668.5h3.1v9.9h-3.1z M336.65 668.5h3.1v9.9h-3.1z M342.59 668.5h3.1v9.9h-3.1z M348.53 618.9h3.1v24.3h-3.1z M354.47 643.5h3.1v21.3h-3.1z M360.42 640h3.1v14.4h-3.1z M366.36 552.2h3.1v45.8h-3.1z M372.3 590.2h3.1v35.7h-3.1z M378.24 668.5h3.1v9.9h-3.1z M384.18 647.2h3.1v17.6h-3.1z M390.13 647.2h3.1v17.6h-3.1z M396.07 629.6h3.1v24.8h-3.1z M402.01 668.5h3.1v9.9h-3.1z M407.95 654.4h3.1v14.1h-3.1z M413.89 601.3h3.1v24.6h-3.1z M419.84 640h3.1v24.8h-3.1z M425.78 668.5h3.1v9.9h-3.1z M431.72 633.3h3.1v21.1h-3.1z M437.66 618.9h3.1v24.3h-3.1z M443.6 633.3h3.1v21.1h-3.1z M449.55 668.5h3.1v9.9h-3.1z M455.49 640h3.1v14.4h-3.1z M461.43 580h3.1v45.9h-3.1z M467.37 643.5h3.1v21.3h-3.1z M473.31 668.5h3.1v9.9h-3.1z M479.26 661.1h3.1v14.1h-3.1z M485.2 661.1h3.1v14.1h-3.1z M491.14 647.2h3.1v21.3h-3.1z M497.08 640h3.1v14.4h-3.1z M503.02 650.9h3.1v17.6h-3.1z M508.97 661.1h3.1v14.1h-3.1z M514.91 664.8h3.1v13.6h-3.1z M520.85 622.4h3.1v20.8h-3.1z M526.79 625.9h3.1v28.5h-3.1z M532.73 633.3h3.1v21.1h-3.1z M538.68 618.9h3.1v24.3h-3.1z M544.62 633.3h3.1v21.1h-3.1z M550.56 647.2h3.1v17.6h-3.1z M556.5 590.4h3.1v35.5h-3.1z M562.44 650.9h3.1v17.6h-3.1z M568.39 661.1h3.1v14.1h-3.1z M574.33 643.5h3.1v21.3h-3.1z M580.27 597.6h3.1v28.3h-3.1z M586.21 664.8h3.1v10.4h-3.1z M592.15 661.1h3.1v14.1h-3.1z M598.1 633.3h3.1v21.1h-3.1z M604.04 668.5h3.1v9.9h-3.1z M609.98 647.2h3.1v17.6h-3.1z M615.92 668.5h3.1v9.9h-3.1z M621.86 636.8h3.1v17.6h-3.1z M627.81 668.5h3.1v9.9h-3.1z M633.75 654.4h3.1v14.1h-3.1z M639.69 668.5h3.1v9.9h-3.1z M645.63 668.5h3.1v9.9h-3.1z M651.57 633.3h3.1v21.1h-3.1z M657.52 608h3.1v35.2h-3.1z" fill="#C0504D"/>
<path d="M75.2 593.8h3.1v22.1h-3.1z M81.14 612h3.1v10.4h-3.1z M87.08 625.6h3.1v11.2h-3.1z M93.03 607.7h3.1v11.2h-3.1z M98.97 586.9h3.1v13.9h-3.1z M104.91 636.5h3.1v10.7h-3.1z M110.85 625.9h3.1v10.6h-3.1z M116.79 636.5h3.1v10.7h-3.1z M122.74 661.1h3.1v7.4h-3.1z M128.68 601.3h3.1v14.4h-3.1z M134.62 661.1h3.1v7.4h-3.1z M140.56 665.6h3.1v2.9h-3.1z M146.5 654.4h3.1v6.7h-3.1z M152.45 647.2h3.1v7.2h-3.1z M158.39 665.6h3.1v2.9h-3.1z M164.33 647.2h3.1v7.2h-3.1z M170.27 647.2h3.1v7.2h-3.1z M176.21 541h3.1v21h-3.1z M182.16 647.2h3.1v7.2h-3.1z M188.1 661.1h3.1v7.4h-3.1z M194.04 633.3h3.1v10.2h-3.1z M199.98 664.8h3.1v3.7h-3.1z M205.92 541h3.1v21h-3.1z M211.87 654.1h3.1v7h-3.1z M217.81 597.6h3.1v18.1h-3.1z M223.75 661.1h3.1v3.7h-3.1z M229.69 650.9h3.1v7h-3.1z M235.63 633.3h3.1v10.2h-3.1z M241.58 612h3.1v13.9h-3.1z M247.52 612h3.1v10.4h-3.1z M253.46 640h3.1v7.2h-3.1z M259.4 612h3.1v10.4h-3.1z M265.34 657.6h3.1v7.2h-3.1z M271.29 622.4h3.1v10.9h-3.1z M277.23 664.8h3.1v3.7h-3.1z M283.17 664.8h3.1v3.7h-3.1z M289.11 650.9h3.1v7h-3.1z M295.05 661.1h3.1v3.7h-3.1z M301 640h3.1v7.2h-3.1z M306.94 661.1h3.1v3.7h-3.1z M312.88 664.8h3.1v3.7h-3.1z M318.82 629.6h3.1v7.2h-3.1z M324.76 664.8h3.1v3.7h-3.1z M330.71 661.1h3.1v7.4h-3.1z M336.65 664.8h3.1v3.7h-3.1z M342.59 664.8h3.1v3.7h-3.1z M348.53 604.8h3.1v14.1h-3.1z M354.47 633.3h3.1v10.2h-3.1z M360.42 633.3h3.1v6.7h-3.1z M366.36 527.2h3.1v25h-3.1z M372.3 575.9h3.1v14.3h-3.1z M378.24 664.8h3.1v3.7h-3.1z M384.18 640h3.1v7.2h-3.1z M390.13 636.5h3.1v10.7h-3.1z M396.07 615.7h3.1v13.9h-3.1z M402.01 665.3h3.1v3.2h-3.1z M407.95 647.2h3.1v7.2h-3.1z M413.89 586.9h3.1v14.4h-3.1z M419.84 625.9h3.1v14.1h-3.1z M425.78 665.3h3.1v3.2h-3.1z M431.72 622.4h3.1v10.9h-3.1z M437.66 604.8h3.1v14.1h-3.1z M443.6 622.4h3.1v10.9h-3.1z M449.55 664.8h3.1v3.7h-3.1z M455.49 633.3h3.1v6.7h-3.1z M461.43 551.7h3.1v28.3h-3.1z M467.37 633.3h3.1v10.2h-3.1z M473.31 661.1h3.1v7.4h-3.1z M479.26 654.4h3.1v6.7h-3.1z M485.2 654.4h3.1v6.7h-3.1z M491.14 636.8h3.1v10.4h-3.1z M497.08 633.3h3.1v6.7h-3.1z M503.02 643.5h3.1v7.4h-3.1z M508.97 654.4h3.1v6.7h-3.1z M514.91 657.6h3.1v7.2h-3.1z M520.85 608h3.1v14.4h-3.1z M526.79 608h3.1v17.9h-3.1z M532.73 622.4h3.1v10.9h-3.1z M538.68 601.3h3.1v17.6h-3.1z M544.62 622.4h3.1v10.9h-3.1z M550.56 636.5h3.1v10.7h-3.1z M556.5 569.1h3.1v21.3h-3.1z M562.44 640h3.1v10.9h-3.1z M568.39 654.4h3.1v6.7h-3.1z M574.33 629.6h3.1v13.9h-3.1z M580.27 579.9h3.1v17.7h-3.1z M586.21 657.6h3.1v7.2h-3.1z M592.15 654.4h3.1v6.7h-3.1z M598.1 622.4h3.1v10.9h-3.1z M604.04 664.8h3.1v3.7h-3.1z M609.98 636.5h3.1v10.7h-3.1z M615.92 664.8h3.1v3.7h-3.1z M621.86 629.6h3.1v7.2h-3.1z M627.81 664.8h3.1v3.7h-3.1z M633.75 647.2h3.1v7.2h-3.1z M639.69 665.3h3.1v3.2h-3.1z M645.63 664.8h3.1v3.7h-3.1z M651.57 618.9h3.1v14.4h-3.1z M657.52 593.9h3.1v14.1h-3.1z" fill="#9BBB59"/>
<path d="M75.2 579.8h3.1v14h-3.1z M81.14 604.8h3.1v7.2h-3.1z M87.08 619.2h3.1v6.4h-3.1z M93.03 601.3h3.1v6.4h-3.1z M98.97 580h3.1v6.9h-3.1z M104.91 629.6h3.1v6.9h-3.1z M110.85 619.2h3.1v6.7h-3.1z M116.79 632.8h3.1v3.7h-3.1z M122.74 657.6h3.1v3.5h-3.1z M128.68 590.4h3.1v10.9h-3.1z M134.62 657.6h3.1v3.5h-3.1z M140.56 664.8h3.1v0.8h-3.1z M146.5 651.2h3.1v3.2h-3.1z M152.45 644h3.1v3.2h-3.1z M158.39 664.8h3.1v0.8h-3.1z M164.33 644h3.1v3.2h-3.1z M170.27 644h3.1v3.2h-3.1z M176.21 527.2h3.1v13.8h-3.1z M182.16 643.5h3.1v3.7h-3.1z M188.1 657.6h3.1v3.5h-3.1z M194.04 626.4h3.1v6.9h-3.1z M199.98 661.1h3.1v3.7h-3.1z M205.92 527.2h3.1v13.8h-3.1z M211.87 647.2h3.1v6.9h-3.1z M217.81 586.9h3.1v10.7h-3.1z M223.75 657.6h3.1v3.5h-3.1z M229.69 647.2h3.1v3.7h-3.1z M235.63 625.9h3.1v7.4h-3.1z M241.58 601.3h3.1v10.7h-3.1z M247.52 604.8h3.1v7.2h-3.1z M253.46 633.3h3.1v6.7h-3.1z M259.4 604.8h3.1v7.2h-3.1z M265.34 654.4h3.1v3.2h-3.1z M271.29 615.7h3.1v6.7h-3.1z M277.23 661.1h3.1v3.7h-3.1z M283.17 661.1h3.1v3.7h-3.1z M289.11 647.2h3.1v3.7h-3.1z M295.05 657.6h3.1v3.5h-3.1z M301 633.3h3.1v6.7h-3.1z M306.94 657.6h3.1v3.5h-3.1z M312.88 661.1h3.1v3.7h-3.1z M318.82 622.4h3.1v7.2h-3.1z M324.76 661.1h3.1v3.7h-3.1z M330.71 657.6h3.1v3.5h-3.1z M336.65 661.1h3.1v3.7h-3.1z M342.59 661.1h3.1v3.7h-3.1z M348.53 597.6h3.1v7.2h-3.1z M354.47 625.9h3.1v7.4h-3.1z M360.42 629.6h3.1v3.7h-3.1z M366.36 513h3.1v14.2h-3.1z M372.3 566.5h3.1v9.4h-3.1z M378.24 661.1h3.1v3.7h-3.1z M384.18 633.3h3.1v6.7h-3.1z M390.13 629.6h3.1v6.9h-3.1z M396.07 608h3.1v7.7h-3.1z M402.01 664.8h3.1v0.5h-3.1z M407.95 643.5h3.1v3.7h-3.1z M413.89 576h3.1v10.9h-3.1z M419.84 615.7h3.1v10.2h-3.1z M425.78 664.8h3.1v0.5h-3.1z M431.72 615.7h3.1v6.7h-3.1z M437.66 597.6h3.1v7.2h-3.1z M443.6 615.7h3.1v6.7h-3.1z M449.55 661.1h3.1v3.7h-3.1z M455.49 629.6h3.1v3.7h-3.1z M461.43 530.8h3.1v20.9h-3.1z M467.37 625.9h3.1v7.4h-3.1z M473.31 657.6h3.1v3.5h-3.1z M479.26 650.9h3.1v3.5h-3.1z M485.2 650.9h3.1v3.5h-3.1z M491.14 629.6h3.1v7.2h-3.1z M497.08 629.6h3.1v3.7h-3.1z M503.02 640h3.1v3.5h-3.1z M508.97 647.2h3.1v7.2h-3.1z M514.91 654.4h3.1v3.2h-3.1z M520.85 597.6h3.1v10.4h-3.1z M526.79 601.3h3.1v6.7h-3.1z M532.73 615.7h3.1v6.7h-3.1z M538.68 590.4h3.1v10.9h-3.1z M544.62 615.7h3.1v6.7h-3.1z M550.56 629.6h3.1v6.9h-3.1z M556.5 555.5h3.1v13.6h-3.1z M562.44 633.3h3.1v6.7h-3.1z M568.39 650.9h3.1v3.5h-3.1z M574.33 618.9h3.1v10.7h-3.1z M580.27 569.4h3.1v10.5h-3.1z M586.21 654.4h3.1v3.2h-3.1z M592.15 650.9h3.1v3.5h-3.1z M598.1 615.7h3.1v6.7h-3.1z M604.04 661.1h3.1v3.7h-3.1z M609.98 629.6h3.1v6.9h-3.1z M615.92 661.1h3.1v3.7h-3.1z M621.86 622.4h3.1v7.2h-3.1z M627.81 661.1h3.1v3.7h-3.1z M633.75 643.5h3.1v3.7h-3.1z M639.69 664.8h3.1v0.5h-3.1z M645.63 661.1h3.1v3.7h-3.1z M651.57 612h3.1v6.9h-3.1z M657.52 583.7h3.1v10.2h-3.1z" fill="#8064A2"/>
<path d="M75.2 568.7h3.1v11.1h-3.1z M81.14 597.1h3.1v7.7h-3.1z M87.08 615.2h3.1v4h-3.1z M93.03 597.1h3.1v4.2h-3.1z M98.97 572h3.1v8h-3.1z M104.91 625.6h3.1v4h-3.1z M110.85 615.2h3.1v4h-3.1z M116.79 629.1h3.1v3.7h-3.1z M122.74 654.1h3.1v3.5h-3.1z M128.68 583.2h3.1v7.2h-3.1z M134.62 654.1h3.1v3.5h-3.1z M140.56 661.1h3.1v3.7h-3.1z M146.5 647.2h3.1v4h-3.1z M152.45 639.7h3.1v4.3h-3.1z M158.39 661.1h3.1v3.7h-3.1z M164.33 639.7h3.1v4.3h-3.1z M170.27 639.7h3.1v4.3h-3.1z M176.21 519.4h3.1v7.8h-3.1z M182.16 639.5h3.1v4h-3.1z M188.1 653.9h3.1v3.7h-3.1z M194.04 622.4h3.1v4h-3.1z M199.98 657.1h3.1v4h-3.1z M205.92 516h3.1v11.2h-3.1z M211.87 643.2h3.1v4h-3.1z M217.81 579.2h3.1v7.7h-3.1z M223.75 654.1h3.1v3.5h-3.1z M229.69 643.2h3.1v4h-3.1z M235.63 622.1h3.1v3.8h-3.1z M241.58 593.6h3.1v7.7h-3.1z M247.52 600.5h3.1v4.3h-3.1z M253.46 629.1h3.1v4.2h-3.1z M259.4 597.1h3.1v7.7h-3.1z M265.34 650.4h3.1v4h-3.1z M271.29 611.5h3.1v4.2h-3.1z M277.23 657.3h3.1v3.8h-3.1z M283.17 657.3h3.1v3.8h-3.1z M289.11 643.2h3.1v4h-3.1z M295.05 654.1h3.1v3.5h-3.1z M301 629.1h3.1v4.2h-3.1z M306.94 654.1h3.1v3.5h-3.1z M312.88 657.3h3.1v3.8h-3.1z M318.82 618.9h3.1v3.5h-3.1z M324.76 657.3h3.1v3.8h-3.1z M330.71 654.1h3.1v3.5h-3.1z M336.65 657.3h3.1v3.8h-3.1z M342.59 657.3h3.1v3.8h-3.1z M348.53 590.1h3.1v7.5h-3.1z M354.47 622.4h3.1v3.5h-3.1z M360.42 625.9h3.1v3.7h-3.1z M366.36 501.5h3.1v11.5h-3.1z M372.3 555h3.1v11.5h-3.1z M378.24 657.3h3.1v3.8h-3.1z M384.18 629.1h3.1v4.2h-3.1z M390.13 625.6h3.1v4h-3.1z M396.07 600.5h3.1v7.5h-3.1z M402.01 661.1h3.1v3.7h-3.1z M407.95 639.7h3.1v3.8h-3.1z M413.89 568.8h3.1v7.2h-3.1z M419.84 607.7h3.1v8h-3.1z M425.78 661.1h3.1v3.7h-3.1z M431.72 611.5h3.1v4.2h-3.1z M437.66 590.1h3.1v7.5h-3.1z M443.6 607.7h3.1v8h-3.1z M449.55 657.3h3.1v3.8h-3.1z M455.49 625.6h3.1v4h-3.1z M461.43 512.3h3.1v18.5h-3.1z M467.37 622.4h3.1v3.5h-3.1z M473.31 654.1h3.1v3.5h-3.1z M479.26 647.2h3.1v3.7h-3.1z M485.2 647.2h3.1v3.7h-3.1z M491.14 625.9h3.1v3.7h-3.1z M497.08 625.9h3.1v3.7h-3.1z M503.02 636.5h3.1v3.5h-3.1z M508.97 643.5h3.1v3.7h-3.1z M514.91 650.4h3.1v4h-3.1z M520.85 590.1h3.1v7.5h-3.1z M526.79 593.6h3.1v7.7h-3.1z M532.73 607.7h3.1v8h-3.1z M538.68 583.2h3.1v7.2h-3.1z M544.62 611.5h3.1v4.2h-3.1z M550.56 625.9h3.1v3.7h-3.1z M556.5 544h3.1v11.5h-3.1z M562.44 629.1h3.1v4.2h-3.1z M568.39 647.2h3.1v3.7h-3.1z M574.33 611.5h3.1v7.4h-3.1z M580.27 561.8h3.1v7.6h-3.1z M586.21 650.4h3.1v4h-3.1z M592.15 647.2h3.1v3.7h-3.1z M598.1 611.5h3.1v4.2h-3.1z M604.04 657.3h3.1v3.8h-3.1z M609.98 625.9h3.1v3.7h-3.1z M615.92 657.3h3.1v3.8h-3.1z M621.86 618.9h3.1v3.5h-3.1z M627.81 657.3h3.1v3.8h-3.1z M633.75 639.7h3.1v3.8h-3.1z M639.69 661.1h3.1v3.7h-3.1z M645.63 657.3h3.1v3.8h-3.1z M651.57 604.5h3.1v7.5h-3.1z M657.52 572h3.1v11.7h-3.1z" fill="#4BACC6"/>
<path d="M72.4 503.38 V718.4 M68.7 714.4 H660.66 L662.66 712.2" stroke="#8a8a8a" stroke-width="1" fill="none"/>
<path d="M68.7 714.4H72.4 M68.7 679.23H72.4 M68.7 644.06H72.4 M68.7 608.89H72.4 M68.7 573.72H72.4 M68.7 538.55H72.4 M68.7 503.38H72.4 M72.4 714.4v4 M78.34 714.4v4 M84.28 714.4v4 M90.23 714.4v4 M96.17 714.4v4 M102.11 714.4v4 M108.05 714.4v4 M113.99 714.4v4 M119.94 714.4v4 M125.88 714.4v4 M131.82 714.4v4 M137.76 714.4v4 M143.7 714.4v4 M149.65 714.4v4 M155.59 714.4v4 M161.53 714.4v4 M167.47 714.4v4 M173.41 714.4v4 M179.36 714.4v4 M185.3 714.4v4 M191.24 714.4v4 M197.18 714.4v4 M203.12 714.4v4 M209.07 714.4v4 M215.01 714.4v4 M220.95 714.4v4 M226.89 714.4v4 M232.83 714.4v4 M238.78 714.4v4 M244.72 714.4v4 M250.66 714.4v4 M256.6 714.4v4 M262.54 714.4v4 M268.49 714.4v4 M274.43 714.4v4 M280.37 714.4v4 M286.31 714.4v4 M292.25 714.4v4 M298.2 714.4v4 M304.14 714.4v4 M310.08 714.4v4 M316.02 714.4v4 M321.96 714.4v4 M327.91 714.4v4 M333.85 714.4v4 M339.79 714.4v4 M345.73 714.4v4 M351.67 714.4v4 M357.62 714.4v4 M363.56 714.4v4 M369.5 714.4v4 M375.44 714.4v4 M381.38 714.4v4 M387.33 714.4v4 M393.27 714.4v4 M399.21 714.4v4 M405.15 714.4v4 M411.09 714.4v4 M417.04 714.4v4 M422.98 714.4v4 M428.92 714.4v4 M434.86 714.4v4 M440.8 714.4v4 M446.75 714.4v4 M452.69 714.4v4 M458.63 714.4v4 M464.57 714.4v4 M470.51 714.4v4 M476.46 714.4v4 M482.4 714.4v4 M488.34 714.4v4 M494.28 714.4v4 M500.22 714.4v4 M506.17 714.4v4 M512.11 714.4v4 M518.05 714.4v4 M523.99 714.4v4 M529.93 714.4v4 M535.88 714.4v4 M541.82 714.4v4 M547.76 714.4v4 M553.7 714.4v4 M559.64 714.4v4 M565.59 714.4v4 M571.53 714.4v4 M577.47 714.4v4 M583.41 714.4v4 M589.35 714.4v4 M595.3 714.4v4 M601.24 714.4v4 M607.18 714.4v4 M613.12 714.4v4 M619.06 714.4v4 M625.01 714.4v4 M630.95 714.4v4 M636.89 714.4v4 M642.83 714.4v4 M648.77 714.4v4 M654.72 714.4v4 M660.66 714.4v4" stroke="#8a8a8a" stroke-width="1" fill="none"/>
<text x="60.2" y="718.9" font-size="13.3" text-anchor="end">0</text>
<text x="60.2" y="683.73" font-size="13.3" text-anchor="end">0.1</text>
<text x="60.2" y="648.56" font-size="13.3" text-anchor="end">0.2</text>
<text x="60.2" y="613.39" font-size="13.3" text-anchor="end">0.3</text>
<text x="60.2" y="578.22" font-size="13.3" text-anchor="end">0.4</text>
<text x="60.2" y="543.05" font-size="13.3" text-anchor="end">0.5</text>
<text x="60.2" y="507.88" font-size="13.3" text-anchor="end">0.6</text>
<text transform="translate(79.97 726.9) rotate(-90)" font-size="13.2" text-anchor="end">10</text>
<text transform="translate(97.8 726.9) rotate(-90)" font-size="13.2" text-anchor="end">12</text>
<text transform="translate(115.62 726.9) rotate(-90)" font-size="13.2" text-anchor="end">15</text>
<text transform="translate(133.45 726.9) rotate(-90)" font-size="13.2" text-anchor="end">18</text>
<text transform="translate(151.28 726.9) rotate(-90)" font-size="13.2" text-anchor="end">20</text>
<text transform="translate(169.1 726.9) rotate(-90)" font-size="13.2" text-anchor="end">23</text>
<text transform="translate(186.93 726.9) rotate(-90)" font-size="13.2" text-anchor="end">26</text>
<text transform="translate(204.75 726.9) rotate(-90)" font-size="13.2" text-anchor="end">29</text>
<text transform="translate(222.58 726.9) rotate(-90)" font-size="13.2" text-anchor="end">31</text>
<text transform="translate(240.41 726.9) rotate(-90)" font-size="13.2" text-anchor="end">34</text>
<text transform="translate(258.23 726.9) rotate(-90)" font-size="13.2" text-anchor="end">37</text>
<text transform="translate(276.06 726.9) rotate(-90)" font-size="13.2" text-anchor="end">4</text>
<text transform="translate(293.88 726.9) rotate(-90)" font-size="13.2" text-anchor="end">42</text>
<text transform="translate(311.71 726.9) rotate(-90)" font-size="13.2" text-anchor="end">45</text>
<text transform="translate(329.54 726.9) rotate(-90)" font-size="13.2" text-anchor="end">48</text>
<text transform="translate(347.36 726.9) rotate(-90)" font-size="13.2" text-anchor="end">50</text>
<text transform="translate(365.19 726.9) rotate(-90)" font-size="13.2" text-anchor="end">53</text>
<text transform="translate(383.01 726.9) rotate(-90)" font-size="13.2" text-anchor="end">56</text>
<text transform="translate(400.84 726.9) rotate(-90)" font-size="13.2" text-anchor="end">59</text>
<text transform="translate(418.67 726.9) rotate(-90)" font-size="13.2" text-anchor="end">61</text>
<text transform="translate(436.49 726.9) rotate(-90)" font-size="13.2" text-anchor="end">64</text>
<text transform="translate(454.32 726.9) rotate(-90)" font-size="13.2" text-anchor="end">67</text>
<text transform="translate(472.14 726.9) rotate(-90)" font-size="13.2" text-anchor="end">7</text>
<text transform="translate(489.97 726.9) rotate(-90)" font-size="13.2" text-anchor="end">72</text>
<text transform="translate(507.8 726.9) rotate(-90)" font-size="13.2" text-anchor="end">75</text>
<text transform="translate(525.62 726.9) rotate(-90)" font-size="13.2" text-anchor="end">78</text>
<text transform="translate(543.45 726.9) rotate(-90)" font-size="13.2" text-anchor="end">80</text>
<text transform="translate(561.27 726.9) rotate(-90)" font-size="13.2" text-anchor="end">83</text>
<text transform="translate(579.1 726.9) rotate(-90)" font-size="13.2" text-anchor="end">86</text>
<text transform="translate(596.93 726.9) rotate(-90)" font-size="13.2" text-anchor="end">89</text>
<text transform="translate(614.75 726.9) rotate(-90)" font-size="13.2" text-anchor="end">91</text>
<text transform="translate(632.58 726.9) rotate(-90)" font-size="13.2" text-anchor="end">94</text>
<text transform="translate(650.4 726.9) rotate(-90)" font-size="13.2" text-anchor="end">97</text>
<text x="364" y="764.7" font-size="13.45" font-weight="bold" text-anchor="middle">Categories</text>
<text transform="translate(24.3 603.5) rotate(-90)" font-size="13.1" font-weight="bold" text-anchor="middle">Average Recall (%)</text>
<rect x="59.5" y="484" width="6.8" height="7" fill="#4F81BD"/>
<text x="68.7" y="491.8" font-size="13.25" font-weight="bold">Top-10 Retrievals</text>
<rect x="179.6" y="484" width="6.8" height="7" fill="#C0504D"/>
<text x="188.8" y="491.8" font-size="13.25" font-weight="bold">Top-20 Retrievals</text>
<rect x="299.7" y="484" width="6.8" height="7" fill="#9BBB59"/>
<text x="308.9" y="491.8" font-size="13.25" font-weight="bold">Top-30 Retrievals</text>
<rect x="419.8" y="484" width="6.8" height="7" fill="#8064A2"/>
<text x="429" y="491.8" font-size="13.25" font-weight="bold">Top-40 Retrievals</text>
<rect x="539.9" y="484" width="6.8" height="7" fill="#4BACC6"/>
<text x="549.1" y="491.8" font-size="13.25" font-weight="bold">Top-50 Retrievals</text>
<text x="341.4" y="809.6" font-size="20.6" text-anchor="middle">(b)</text>
</svg>
</body></html>
